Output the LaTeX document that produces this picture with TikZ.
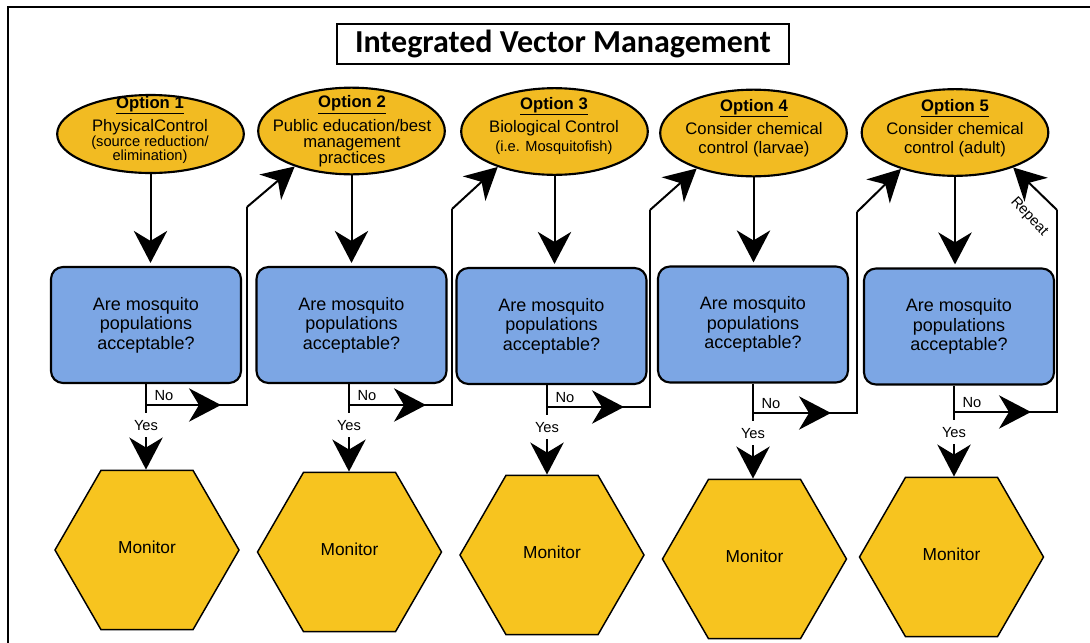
\documentclass[tikz,border=0pt]{standalone}
\usepackage{fontspec}
\setmainfont{Liberation Sans}
\newfontfamily\titlefont{Carlito}
\usetikzlibrary{shapes.geometric,arrows.meta,calc}

\definecolor{optfill}{RGB}{242,187,34}
\definecolor{hexfill}{RGB}{247,196,31}
\definecolor{qfill}{RGB}{124,166,228}

\begin{document}
\begin{tikzpicture}[x=0.75pt,y=-0.75pt,
  optshape/.style={ellipse,draw=black,line width=1.6pt,fill=optfill,
    minimum width=140pt,minimum height=65pt,inner sep=0pt},
  opttext/.style={align=center,font=\fontsize{12.5}{12}\selectfont,inner sep=0pt},
  question/.style={rectangle,rounded corners=9pt,draw=black,line width=1.6pt,
    fill=qfill,minimum width=142.5pt,minimum height=87pt,align=center,
    font=\fontsize{13.5}{14.6}\selectfont},
  monitor/.style={regular polygon,regular polygon sides=6,minimum size=138pt,
    inner sep=0pt,draw=black,line width=1.1pt,fill=hexfill,
    font=\fontsize{13}{15}\selectfont},
  link/.style={line width=1.5pt},
  arr/.style={link,-{Stealth[length=24pt,width=25pt,inset=7.5pt]}},
  tag/.style={font=\fontsize{11}{12}\selectfont,inner sep=1pt}
]
\useasboundingbox (0,0) rectangle (1090,643);

% outer frame (top and left edges)
\draw[line width=1.6pt] (1090,7) -- (8,7) -- (8,643);

% title
\node[draw=black,line width=1.6pt,minimum width=339pt,minimum height=30pt,
  inner sep=0pt,font=\titlefont\bfseries\fontsize{24}{26}\selectfont]
  (title) at (563,44) {Integrated Vector Management};

% option ellipses
\node[optshape,minimum height=58.5pt] (o1) at (150.5,134) {};
\node[optshape] (o2) at (351.5,131) {};
\node[optshape] (o3) at (554.5,131.5) {};
\node[optshape] (o4) at (753.5,133) {};
\node[optshape] (o5) at (955,132.5) {};

\node[opttext] (t1) at (150,130)
  {\textbf{\underline{Option 1}}\\[3pt]PhysicalControl\\[-1pt]
   {\fontsize{11}{11}\selectfont (source reduction/}\\[-1pt]
   {\fontsize{11}{11}\selectfont elimination)}};
\node[opttext] (t2) at (352,131)
  {\textbf{\underline{Option 2}}\\[3pt]Public education/best\\management\\practices};
\node[opttext] (t3) at (554,126)
  {\textbf{\underline{Option 3}}\\[3pt]Biological Control\\[2pt]
   {\fontsize{11}{11}\selectfont (i.e. Mosquitofish)}};
\node[opttext] (t4) at (754,128)
  {\textbf{\underline{Option 4}}\\[3pt]Consider chemical\\[2pt]control (larvae)};
\node[opttext] (t5) at (955,128)
  {\textbf{\underline{Option 5}}\\[3pt]Consider chemical\\[2pt]control (adult)};

% question boxes
\node[question] (b1) at (146,325)   {Are mosquito\\populations\\acceptable?};
\node[question] (b2) at (351.5,325) {Are mosquito\\populations\\acceptable?};
\node[question] (b3) at (551.5,326) {Are mosquito\\populations\\acceptable?};
\node[question] (b4) at (753,324.5) {Are mosquito\\populations\\acceptable?};
\node[question] (b5) at (959,326.5) {Are mosquito\\populations\\acceptable?};

% monitor hexagons
\node[monitor] (h1) at (147,550)   {\raisebox{4pt}{Monitor}};
\node[monitor] (h2) at (349.5,552) {\raisebox{4pt}{Monitor}};
\node[monitor] (h3) at (552,555)   {\raisebox{4pt}{Monitor}};
\node[monitor] (h4) at (754.5,559) {\raisebox{4pt}{Monitor}};
\node[monitor] (h5) at (951.5,557) {\raisebox{4pt}{Monitor}};

% option -> question
\draw[arr] (o1.south) -- ($(o1.south |- b1.north)+(0,-3)$);
\draw[arr] (o2.south) -- ($(o2.south |- b2.north)+(0,-3)$);
\draw[arr] (o3.south) -- ($(o3.south |- b3.north)+(0,-3)$);
\draw[arr] (o4.south) -- ($(o4.south |- b4.north)+(0,-3)$);
\draw[arr] (o5.south) -- ($(o5.south |- b5.north)+(0,-3)$);

% decision points, risers and bends
\coordinate (d1) at (146,405);  \coordinate (r1) at (247,405);  \coordinate (k1) at (247,207);
\coordinate (d2) at (349,405);  \coordinate (r2) at (452,405);  \coordinate (k2) at (452,209);
\coordinate (d3) at (547,407);  \coordinate (r3) at (650,407);  \coordinate (k3) at (650,210);
\coordinate (d4) at (753,413);  \coordinate (r4) at (857,413);  \coordinate (k4) at (857,212);
\coordinate (d5) at (954,412);  \coordinate (r5) at (1057,412); \coordinate (k5) at (1057,210);

\foreach \i in {1,...,5}{
  % stem from the question box
  \draw[link] (d\i |- b\i.south) -- ($(d\i)+(0,8)$);
  % "No" branch
  \draw[link] (d\i) -- (r\i) -- (k\i);
  \draw[arr] (d\i) -- ($(r\i)+(-26,0)$);
  \node[tag] (no\i) at ($(d\i)+(18,-9)$) {No};
  % "Yes" branch
  \node[tag] (yes\i) at ($(d\i)+(0,21)$) {Yes};
  \draw[arr] ($(d\i)+(0,32)$) -- (d\i |- h\i.north);
}

% back to the next option (and repeat)
\draw[arr] (k1) -- (o2.212);
\draw[arr] (k2) -- (o3.212);
\draw[arr] (k3) -- (o4.212);
\draw[arr] (k4) -- (o5.214);
\draw[arr] (k5) -- (o5.329);
\node[font=\fontsize{11}{12}\selectfont,rotate=-47,inner sep=0pt] (rep) at (1029,217) {Repeat};

\end{tikzpicture}
\end{document}
